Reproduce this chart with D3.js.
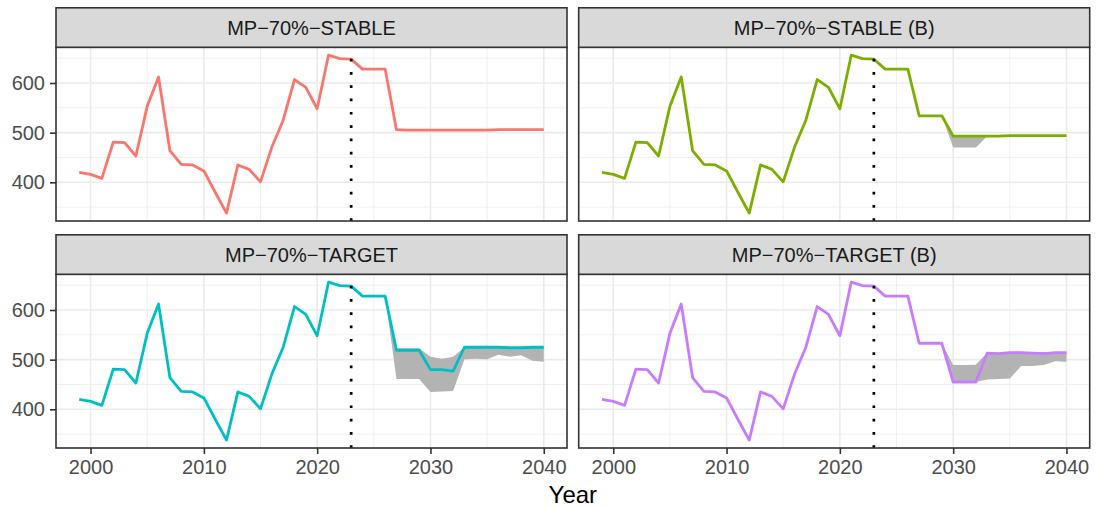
<!DOCTYPE html>
<html><head><meta charset="utf-8">
<script src="https://cdn.jsdelivr.net/npm/d3@7"></script>
<style>body{margin:0;background:#fff}svg{display:block;font-family:"Liberation Sans",Arial,Helvetica,sans-serif}</style>
</head><body><svg id="c" width="1096" height="508"></svg>
<script>
// ---- data ----
const histYears = d3.range(1999, 2024);
const histValues = [420,416,408,481,480,453,553,612,464,436,435,423,380,338,435,426,401,471,525,607,591,548,656,649,648];
const projYears = d3.range(2024, 2041);
const panelNames = ["MP\u221270%\u2212STABLE","MP\u221270%\u2212STABLE (B)","MP\u221270%\u2212TARGET","MP\u221270%\u2212TARGET (B)"];
const panelColors = ["#F8766D","#7CAE00","#00BFC4","#C77CFF"];
const stableLine  = [628,628,628,506,505,505,505,505,505,505,505,505,506,506,506,506,506];
const stableLow   = [628,628,628,506,505,505,505,505,505,505,505,505,506,506,506,506,506];
const stableHigh  = [628,628,628,506,505,505,505,505,505,505,505,505,506,506,506,506,506];
const stableBLine = [628,628,628,534,534,534,493,493,493,493,493,494,494,494,494,494,494];
const stableBLow  = [628,628,628,534,534,534,470,470,470,493,493,494,494,494,494,494,494];
const stableBHigh = [628,628,628,534,534,534,493,493,493,493,493,494,494,494,494,494,494];
const targetLine  = [628,628,628,519,519,519,480,480,477,525,525,525,525,524,524,525,525];
const targetLow   = [628,628,628,461,461,461,435,436,437,501,502,501,510,506,509,498,496];
const targetHigh  = [628,628,628,523,523,523,506,502,506,525,525,525,525,525,525,525,525];
const targetBLine = [628,628,628,533,533,533,455,455,455,513,512,514,514,513,512,514,514];
const targetBLow  = [628,628,628,533,533,533,455,455,455,460,461,462,487,487,489,497,496];
const targetBHigh = [628,628,628,533,533,533,489,489,490,514,514,515,515,515,515,515,515];
const xTicks = [2000,2010,2020,2030,2040];
const xMinor = [2005,2015,2025,2035];
const yTicks = [400,500,600];
const yMinor = [350,450,550,650];
const currentYear = 2023;
const xTitle = "Year";

const projLines = [stableLine, stableBLine, targetLine, targetBLine];
const projLow = [stableLow, stableBLow, targetLow, targetBLow];
const projHigh = [stableHigh, stableBHigh, targetHigh, targetBHigh];

// ---- layout ----
const svg = d3.select("#c");
const panelX = [56, 578.7];
const panelW = 511;
const panelY = [47.3, 274.3];
const panelH = 173.7;
const stripH = 39.5;

const allYears = histYears.concat(projYears);
const allVals = histValues.concat(...projLines, ...projLow, ...projHigh);
const xExt = d3.extent(allYears), xR = xExt[1]-xExt[0];
const yExt = d3.extent(allVals), yR = yExt[1]-yExt[0];
const xDom = [xExt[0]-0.05*xR, xExt[1]+0.05*xR];
const yDom = [yExt[0]-0.05*yR, yExt[1]+0.05*yR];

panelNames.forEach((name, i) => {
  const col = i % 2, row = Math.floor(i / 2);
  const x0 = panelX[col], y0 = panelY[row];
  const x = d3.scaleLinear().domain(xDom).range([x0, x0 + panelW]);
  const y = d3.scaleLinear().domain(yDom).range([y0 + panelH, y0]);
  const g = svg.append("g");

  // background
  g.append("rect").attr("x", x0).attr("y", y0).attr("width", panelW).attr("height", panelH).attr("fill", "#fff");
  // gridlines
  g.selectAll(null).data(xMinor).enter().append("line")
    .attr("x1", d => x(d)).attr("x2", d => x(d)).attr("y1", y0).attr("y2", y0 + panelH)
    .attr("stroke", "#EBEBEB").attr("stroke-width", 0.8);
  g.selectAll(null).data(yMinor).enter().append("line")
    .attr("y1", d => y(d)).attr("y2", d => y(d)).attr("x1", x0).attr("x2", x0 + panelW)
    .attr("stroke", "#EBEBEB").attr("stroke-width", 0.8);
  g.selectAll(null).data(xTicks).enter().append("line")
    .attr("x1", d => x(d)).attr("x2", d => x(d)).attr("y1", y0).attr("y2", y0 + panelH)
    .attr("stroke", "#EBEBEB").attr("stroke-width", 1.6);
  g.selectAll(null).data(yTicks).enter().append("line")
    .attr("y1", d => y(d)).attr("y2", d => y(d)).attr("x1", x0).attr("x2", x0 + panelW)
    .attr("stroke", "#EBEBEB").attr("stroke-width", 1.6);

  // band
  const bandData = projYears.map((yr, k) => ({yr, lo: projLow[i][k], hi: projHigh[i][k]}));
  g.append("path").datum(bandData)
    .attr("d", d3.area().x(d => x(d.yr)).y0(d => y(d.lo)).y1(d => y(d.hi)))
    .attr("fill", "#B3B3B3");

  // line
  const lineData = histYears.map((yr, k) => ({yr, v: histValues[k]}))
    .concat(projYears.map((yr, k) => ({yr, v: projLines[i][k]})));
  g.append("path").datum(lineData)
    .attr("d", d3.line().x(d => x(d.yr)).y(d => y(d.v)))
    .attr("fill", "none").attr("stroke", panelColors[i]).attr("stroke-width", 2.8)
    .attr("stroke-linejoin", "round");

  // dotted vline (drawn bottom to top)
  g.append("line")
    .attr("x1", x(currentYear)).attr("x2", x(currentYear))
    .attr("y1", y0 + panelH).attr("y2", y0)
    .attr("stroke", "#000").attr("stroke-width", 2.7).attr("stroke-dasharray", "2.7 10.6");

  // panel border
  g.append("rect").attr("x", x0).attr("y", y0).attr("width", panelW).attr("height", panelH)
    .attr("fill", "none").attr("stroke", "#333333").attr("stroke-width", 1.6);

  // strip
  g.append("rect").attr("x", x0).attr("y", y0 - stripH).attr("width", panelW).attr("height", stripH)
    .attr("fill", "#D9D9D9").attr("stroke", "#333333").attr("stroke-width", 1.6);
  g.append("text").attr("x", x0 + panelW / 2).attr("y", y0 - stripH / 2)
    .attr("text-anchor", "middle").attr("dominant-baseline", "central")
    .attr("font-size", 20).attr("fill", "#1A1A1A").text(name);

  // axes
  if (row === 1) {
    const ax = g.append("g").attr("transform", `translate(0,${y0 + panelH})`)
      .call(d3.axisBottom(x).tickValues(xTicks).tickFormat(d3.format("d")).tickSize(6).tickPadding(6));
    ax.select(".domain").remove();
    ax.selectAll("line").attr("stroke", "#333333").attr("stroke-width", 1.6);
    ax.selectAll("text").attr("font-size", 20).attr("fill", "#4D4D4D").attr("font-family", "Liberation Sans, Arial, sans-serif");
  }
  if (col === 0) {
    const ay = g.append("g").attr("transform", `translate(${x0},0)`)
      .call(d3.axisLeft(y).tickValues(yTicks).tickFormat(d3.format("d")).tickSize(6).tickPadding(5));
    ay.select(".domain").remove();
    ay.selectAll("line").attr("stroke", "#333333").attr("stroke-width", 1.6);
    ay.selectAll("text").attr("font-size", 20).attr("fill", "#4D4D4D").attr("font-family", "Liberation Sans, Arial, sans-serif");
  }
});

svg.append("text").attr("x", (panelX[0] + panelX[1] + panelW) / 2).attr("y", 503)
  .attr("text-anchor", "middle").attr("font-size", 24).attr("fill", "#000").text(xTitle);
</script></body></html>
